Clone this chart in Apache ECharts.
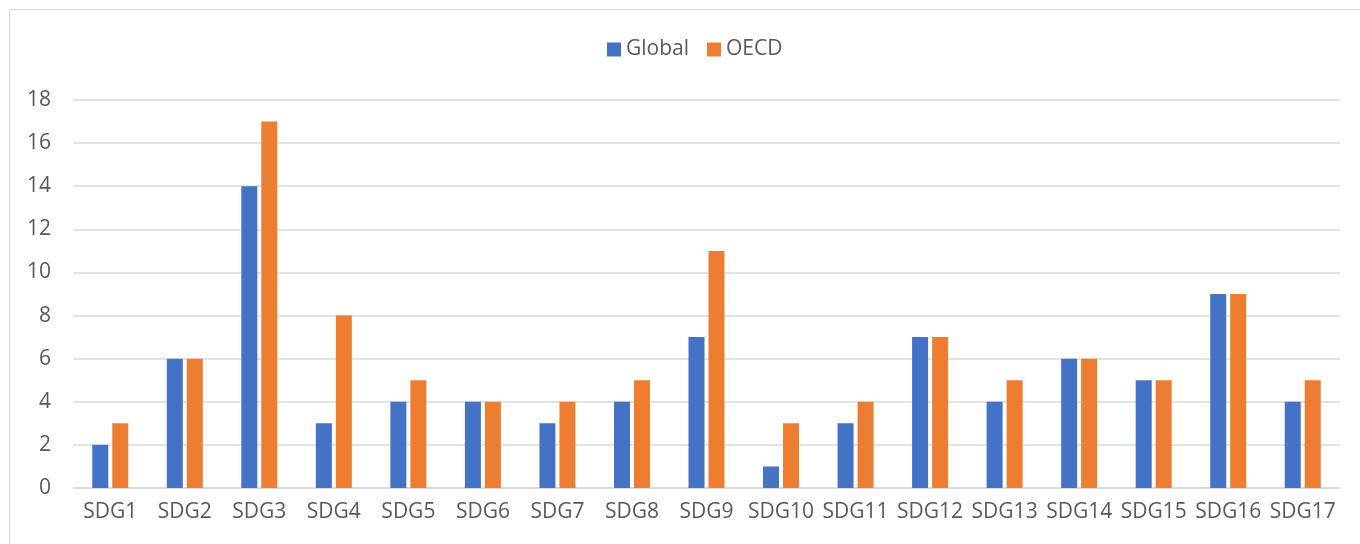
<!DOCTYPE html>
<html>
<head>
<meta charset="utf-8">
<script src="https://cdn.jsdelivr.net/npm/echarts@6/dist/echarts.min.js"></script>
<style>
  html, body { margin: 0; padding: 0; background: #fff; }
  #chart { width: 1360px; height: 544px; }
</style>
</head>
<body>
<div id="chart"></div>
<script>
// SDG targets counted per goal
const categories = ['SDG1','SDG2','SDG3','SDG4','SDG5','SDG6','SDG7','SDG8','SDG9','SDG10','SDG11','SDG12','SDG13','SDG14','SDG15','SDG16','SDG17'];
const globalValues = [2, 6, 14, 3, 4, 4, 3, 4, 7, 1, 3, 7, 4, 6, 5, 9, 4];
const oecdValues   = [3, 6, 17, 8, 5, 4, 4, 5, 11, 3, 4, 7, 5, 6, 5, 9, 5];
const seriesNames = ['Global', 'OECD'];

const textColor = '#595959';
const lineColor = '#D9D9D9';
const fontFamily = '"Open Sans", "Liberation Sans", sans-serif';

const chart = echarts.init(document.getElementById('chart'), null, { renderer: 'canvas' });

chart.setOption({
  animation: false,
  backgroundColor: '#ffffff',
  textStyle: { fontFamily: fontFamily },
  graphic: [{
    type: 'rect',
    shape: { x: 9.5, y: 9.5, width: 1400, height: 600 },
    style: { fill: 'none', stroke: lineColor, lineWidth: 1 },
    silent: true
  }],
  legend: {
    left: 602,
    top: 34,
    itemWidth: 14,
    itemHeight: 14,
    itemGap: 18,
    icon: 'rect',
    textStyle: { color: textColor, fontSize: 21, fontFamily: fontFamily, padding: [0, 0, 0, 0] },
    data: seriesNames
  },
  grid: { left: 73, right: 20, top: 100, bottom: 56, containLabel: false },
  xAxis: {
    type: 'category',
    data: categories,
    axisLine: { show: true, lineStyle: { color: lineColor, width: 1.5 } },
    axisTick: { show: false },
    axisLabel: { color: textColor, fontSize: 21, fontFamily: fontFamily, margin: 14, interval: 0 }
  },
  yAxis: {
    type: 'value',
    min: 0,
    max: 18,
    interval: 2,
    axisLine: { show: false },
    axisTick: { show: false },
    splitLine: { lineStyle: { color: lineColor, width: 1.5 } },
    axisLabel: { color: textColor, fontSize: 21, fontFamily: fontFamily, margin: 22 }
  },
  series: [
    {
      name: seriesNames[0],
      type: 'bar',
      data: globalValues,
      barWidth: 16,
      barGap: '25%',
      itemStyle: { color: '#4472C4' }
    },
    {
      name: seriesNames[1],
      type: 'bar',
      data: oecdValues,
      barWidth: 16,
      barGap: '25%',
      itemStyle: { color: '#ED7D31' }
    }
  ]
});
</script>
</body>
</html>
